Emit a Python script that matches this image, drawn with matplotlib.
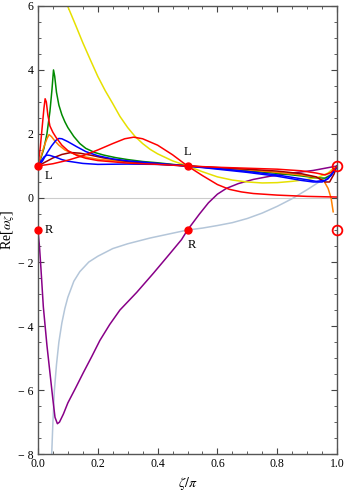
import matplotlib
matplotlib.use("Agg")
import matplotlib.pyplot as plt
import numpy as np

plt.rcParams['font.family'] = ['Liberation Serif', 'DejaVu Serif']
plt.rcParams['mathtext.fontset'] = 'stix'

# curves: (zeta/pi, Re[omega])
yellow_x = [0.099, 0.125, 0.15, 0.175, 0.20, 0.225, 0.25, 0.274, 0.30, 0.324, 0.35, 0.375, 0.40,
            0.45, 0.50, 0.55, 0.60, 0.65, 0.70, 0.75, 0.80, 0.85, 0.90, 0.94, 0.97, 0.99]
yellow_y = [6.0, 5.42, 4.85, 4.32, 3.8, 3.35, 2.95, 2.55, 2.2, 1.93, 1.7, 1.52, 1.38,
            1.16, 1.0, 0.82, 0.66, 0.56, 0.5, 0.47, 0.48, 0.52, 0.58, 0.66, 0.78, 0.95]

green_x = [0.0, 0.01, 0.02, 0.03, 0.04, 0.047, 0.052, 0.056, 0.062, 0.07, 0.08, 0.09, 0.10, 0.12,
           0.14, 0.16, 0.19, 0.22, 0.26, 0.30, 0.35, 0.40, 0.45, 0.50, 0.60, 0.70, 0.80, 0.88,
           0.93, 0.96, 0.98, 1.0]
green_y = [1.0, 1.25, 1.55, 2.0, 2.7, 3.4, 4.0, 3.8, 3.3, 2.9, 2.6, 2.38, 2.2, 1.92,
           1.7, 1.55, 1.42, 1.34, 1.26, 1.2, 1.14, 1.1, 1.05, 1.0, 0.93, 0.85, 0.77, 0.69,
           0.63, 0.62, 0.72, 1.0]

red1_x = [0.0, 0.008, 0.015, 0.02, 0.024, 0.028, 0.033, 0.04, 0.05, 0.06, 0.08, 0.10, 0.13, 0.16,
          0.20, 0.30, 0.40, 0.50, 0.60, 0.70, 0.80, 0.88, 0.93, 0.96, 0.98, 1.0]
red1_y = [1.0, 1.6, 2.3, 2.8, 3.1, 3.0, 2.6, 2.25, 2.05, 1.9, 1.65, 1.48, 1.33, 1.24,
          1.17, 1.09, 1.05, 1.0, 0.96, 0.93, 0.9, 0.85, 0.78, 0.72, 0.8, 1.0]

orange_x = [0.0, 0.01, 0.02, 0.03, 0.037, 0.045, 0.055, 0.07, 0.09, 0.12, 0.16, 0.20, 0.30, 0.40,
            0.50, 0.60, 0.70, 0.80, 0.88, 0.93, 0.955, 0.97, 0.98, 0.987]
orange_y = [1.0, 1.3, 1.6, 1.85, 1.98, 1.92, 1.8, 1.65, 1.5, 1.38, 1.28, 1.21, 1.12, 1.06,
            1.0, 0.94, 0.88, 0.8, 0.72, 0.65, 0.55, 0.3, 0.0, -0.43]

blue1_x = [0.0, 0.015, 0.03, 0.045, 0.06, 0.07, 0.08, 0.10, 0.13, 0.16, 0.20, 0.25, 0.30, 0.40,
           0.50, 0.60, 0.70, 0.80, 0.88, 0.92, 0.95, 0.97, 0.99, 1.0]
blue1_y = [1.0, 1.15, 1.4, 1.62, 1.8, 1.86, 1.85, 1.76, 1.6, 1.45, 1.32, 1.22, 1.16, 1.08,
           1.0, 0.9, 0.8, 0.68, 0.55, 0.5, 0.5, 0.6, 0.85, 1.0]

blue2_x = [0.0, 0.01, 0.02, 0.03, 0.04, 0.06, 0.08, 0.10, 0.15, 0.20, 0.30, 0.40, 0.50, 0.60,
           0.70, 0.80, 0.88, 0.93, 0.96, 0.98, 1.0]
blue2_y = [1.0, 1.15, 1.28, 1.34, 1.33, 1.27, 1.2, 1.15, 1.08, 1.05, 1.06, 1.05, 1.0, 0.92,
           0.83, 0.72, 0.6, 0.52, 0.55, 0.7, 1.0]

dred_x = [0.0, 0.02, 0.05, 0.08, 0.11, 0.14, 0.18, 0.22, 0.30, 0.40, 0.50, 0.60, 0.70, 0.80,
          0.88, 0.93, 0.96, 0.975, 0.99, 1.0]
dred_y = [1.0, 1.1, 1.25, 1.36, 1.42, 1.4, 1.33, 1.25, 1.14, 1.07, 1.0, 0.95, 0.9, 0.84,
          0.76, 0.66, 0.5, 0.5, 0.75, 1.0]

red2_x = [0.0, 0.05, 0.10, 0.15, 0.20, 0.25, 0.29, 0.32, 0.35, 0.40, 0.45, 0.50, 0.55, 0.60,
          0.64, 0.68, 0.72, 0.80, 0.90, 1.0]
red2_y = [1.0, 1.07, 1.18, 1.32, 1.5, 1.7, 1.85, 1.9, 1.85, 1.65, 1.35, 1.0, 0.7, 0.42,
          0.27, 0.19, 0.14, 0.09, 0.05, 0.03]

purple_x = [0.0, 0.005, 0.01, 0.018, 0.03, 0.04, 0.05, 0.057, 0.065, 0.072, 0.085, 0.10, 0.125,
            0.152, 0.18, 0.207, 0.24, 0.274, 0.33, 0.386, 0.44, 0.48, 0.50, 0.54, 0.57, 0.60,
            0.63, 0.67, 0.72, 0.776, 0.85, 0.92, 1.0]
purple_y = [-1.0, -1.5, -2.2, -3.4, -4.6, -5.45, -6.3, -6.85, -7.05, -7.0, -6.75, -6.4, -5.95,
            -5.45, -4.95, -4.45, -3.95, -3.5, -2.95, -2.35, -1.75, -1.3, -1.0, -0.5, -0.15, 0.12,
            0.3, 0.45, 0.58, 0.68, 0.78, 0.86, 1.0]

lblue_x = [0.046, 0.05, 0.055, 0.062, 0.07, 0.08, 0.09, 0.10, 0.12, 0.14, 0.17, 0.20, 0.25, 0.30,
           0.375, 0.45, 0.50, 0.55, 0.60, 0.65, 0.70, 0.75, 0.80, 0.85, 0.90, 0.95, 0.98, 1.0]
lblue_y = [-8.0, -7.0, -6.0, -5.2, -4.5, -3.9, -3.45, -3.1, -2.6, -2.3, -2.0, -1.82, -1.58, -1.43,
           -1.25, -1.1, -1.0, -0.94, -0.86, -0.77, -0.64, -0.47, -0.26, -0.02, 0.26, 0.56,
           0.76, 0.95]

fig = plt.figure(figsize=(3.45, 4.92), dpi=100)
ax = fig.add_axes([0.110, 0.077, 0.867, 0.911])

ax.axhline(0, color='#cccccc', lw=0.8, zorder=1)

lw = 1.1
ax.plot(lblue_x, lblue_y, color='#b4c6d9', lw=lw)
ax.plot(purple_x, purple_y, color='#880088', lw=lw)
ax.plot(yellow_x, yellow_y, color='#e6e000', lw=lw)
ax.plot(green_x, green_y, color='#008a00', lw=lw)
ax.plot(orange_x, orange_y, color='#ff8000', lw=lw)
ax.plot(dred_x, dred_y, color='#a00000', lw=lw)
ax.plot(blue1_x, blue1_y, color='#0000ff', lw=lw)
ax.plot(blue2_x, blue2_y, color='#0000ff', lw=lw)
ax.plot(red2_x, red2_y, color='#ff0000', lw=lw)
ax.plot(red1_x, red1_y, color='#ff0000', lw=lw)

ax.plot([0, 0.5, 0, 0.5], [1, 1, -1, -1], 'o', color='#ff0000', ms=5, clip_on=False, zorder=5)
ax.plot([1, 1], [1, -1], 'o', mfc='none', mec='#ff0000', mew=1.3, ms=7, clip_on=False, zorder=5)

ax.text(0.022, 0.68, 'L', fontsize=9, va='center', ha='left')
ax.text(0.5, 1.45, 'L', fontsize=9, va='center', ha='center')
ax.text(0.022, -1.0, 'R', fontsize=9, va='center', ha='left')
ax.text(0.5, -1.48, 'R', fontsize=9, va='center', ha='left')

ax.set_xlim(0, 1)
ax.set_ylim(-8, 6)
ax.set_xticks(np.arange(0, 1.01, 0.2))
ax.set_xticklabels(['0.0', '0.2', '0.4', '0.6', '0.8', '1.0'])
ax.set_xticks(np.arange(0, 1.001, 0.05), minor=True)
ax.set_yticks(np.arange(-8, 7, 2))
ax.set_yticklabels(['\u2212 8', '\u2212 6', '\u2212 4', '\u2212 2', '0', '2', '4', '6'])
ax.set_yticks(np.arange(-8, 6.01, 0.5), minor=True)
ax.tick_params(which='both', direction='in', top=True, right=True, labelsize=8.5,
               color='#444444')
ax.tick_params(axis='x', pad=2.5)
ax.tick_params(axis='y', pad=3)
ax.tick_params(which='major', length=4, width=0.8)
ax.tick_params(which='minor', length=2, width=0.6)
for s in ax.spines.values():
    s.set_color('#555555')
    s.set_linewidth(1.0)

ax.set_xlabel(r'$\zeta/\pi$', fontsize=10, labelpad=4)
ax.set_ylabel(r'Re[$\omega_\zeta$]', fontsize=10, labelpad=1)

fig.savefig('out.png', dpi=100)
